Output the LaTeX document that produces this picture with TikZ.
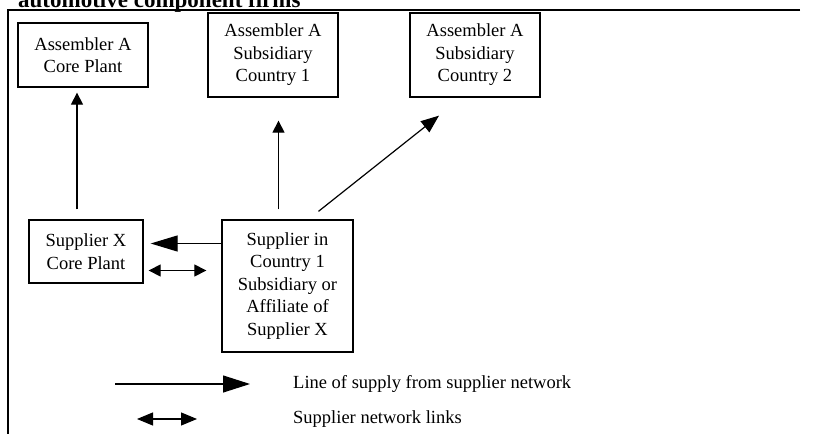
\documentclass[tikz,border=0pt]{standalone}
\usepackage{fontspec}
\setmainfont{Liberation Serif}
\usetikzlibrary{arrows.meta, positioning, calc}

\begin{document}
\begin{tikzpicture}[
    x=1pt, y=-1pt,
    firm/.style={rectangle, draw, line width=1.3pt, align=center, inner sep=0pt, font=\fontsize{18.5}{22.5}\selectfont},
    supply/.style={line width=1.2pt, -{Triangle[#1]}},
    supply/.default={length=12pt,width=12pt},
    link/.style={line width=1.2pt, {Triangle[#1]}-{Triangle[#1]}},
    link/.default={length=12pt,width=12pt},
    legend/.style={anchor=west, inner sep=0pt, font=\fontsize{18.5}{22.5}\selectfont}
]
\useasboundingbox (0,0) rectangle (815,434);
\clip (0,0) rectangle (815,434);

% Frame and caption
\node[anchor=base west, inner sep=0pt, font=\fontsize{23}{27}\selectfont\bfseries] (title) at (18,7) {automotive component firms};
\draw[line width=1.3pt] (800,10) -- (8,10) -- (8,434);

% Row 1: Assemblers
\node[firm, minimum width=130pt, minimum height=64pt] (acore) at (83,55) {Assembler A\\Core Plant};
\node[firm, minimum width=130pt, minimum height=84pt] (asub1) at (273,55) {Assembler A\\Subsidiary\\Country 1};
\node[firm, minimum width=130pt, minimum height=84pt] (asub2) at (475,55) {Assembler A\\Subsidiary\\Country 2};

% Row 2: Suppliers
\node[firm, minimum width=114pt, minimum height=63pt] (sxcore) at (86,251.5) {Supplier X\\Core Plant};
\node[firm, minimum width=131pt, minimum height=132pt] (sxc1) at (287.5,286) {Supplier in\\Country 1\\Subsidiary or\\Affiliate of\\Supplier X};

% Arrows
\draw[supply, shorten <=10pt, shorten >=5pt] ([xshift=-9pt]sxcore.north) -- ([xshift=-9pt]sxcore.north |- acore.south);
\draw[supply, shorten <=10pt, shorten >=23pt] ([xshift=-9pt]sxc1.north) -- ([xshift=-9pt]sxc1.north |- asub1.south);
\draw[supply={length=18pt,width=14pt}] ([xshift=31pt,yshift=8pt]sxc1.north) -- ([xshift=-36pt,yshift=-18pt]asub2.south);
\draw[supply={length=27pt,width=16pt}, shorten >=7pt] ([yshift=8pt]sxcore.east -| sxc1.west) -- ([yshift=8pt]sxcore.east);
\draw[link, shorten <=5pt, shorten >=15pt] ([yshift=-19pt]sxcore.east) -- ([yshift=-19pt]sxcore.east -| sxc1.west);

% Legend
\coordinate (supplyfrom) at (115,384);
\node[legend] (supplytext) at (293,384) {Line of supply from supplier network};
\draw[supply={length=27pt,width=17pt}, shorten >=43pt] (supplyfrom) -- (supplytext.west);
\coordinate (linkfrom) at (137,419);
\node[legend] (linktext) at (293,419) {Supplier network links};
\draw[link={length=16pt,width=13pt}, shorten >=96pt] (linkfrom) -- (linktext.west);

\end{tikzpicture}
\end{document}
